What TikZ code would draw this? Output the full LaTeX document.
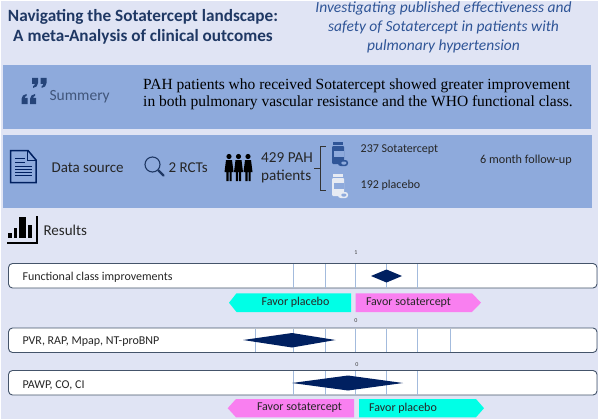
\documentclass[tikz,border=0pt]{standalone}
\usepackage{fontspec}
\setmainfont{Carlito}
\newfontfamily\serifface{Liberation Serif}
\definecolor{pagebg}{HTML}{E0E4F4}
\definecolor{bandblue}{HTML}{8EAADC}
\definecolor{navy}{HTML}{002060}
\definecolor{titleblue}{HTML}{1F3864}
\definecolor{subblue}{HTML}{2F5597}
\definecolor{barline}{HTML}{44546A}
\definecolor{tickblue}{HTML}{A3BBDD}
\definecolor{favcyan}{HTML}{00FFE6}
\definecolor{favpink}{HTML}{F97FF0}
\definecolor{pillwhite}{HTML}{E7EBF3}

\begin{document}
\begin{tikzpicture}[x=1pt,y=-1pt,
    band/.style={fill=bandblue,draw=none},
    resultbar/.style={draw=barline,line width=0.9pt,fill=white,rounded corners=4pt},
    tick/.style={draw=tickblue,line width=1pt},
    bartext/.style={anchor=west,font=\fontsize{12}{14}\selectfont,text=black!85},
    labeltext/.style={anchor=west,font=\fontsize{15}{18}\selectfont,text=black!85},
    smalltext/.style={anchor=west,inner sep=0pt,font=\fontsize{12}{14}\selectfont,text=black!85},
    zerotext/.style={font=\fontsize{6}{7}\selectfont,text=black!75,inner sep=0pt},
    favortext/.style={inner sep=0pt,font=\fontsize{12}{14}\selectfont,text=black!85},
    effect/.style={fill=navy,draw=none}]
  \useasboundingbox (0,0) rectangle (600,420);
  \fill[white] (0,0) rectangle (600,420);
  \fill[pagebg] (1,1) rectangle (597.5,418.5);
  % header
  \node[font=\fontsize{17.2}{20.5}\selectfont\bfseries,text=titleblue,align=center,inner sep=0pt] (title) at (143,27)
    {Navigating the Sotatercept landscape:\\A meta-Analysis of clinical outcomes};
  \node[font=\fontsize{15.5}{18.7}\selectfont\itshape,text=subblue,align=center,inner sep=0pt] (subtitle) at (443.5,27.5)
    {Investigating published effectiveness and\\safety of Sotatercept in patients with\\pulmonary hypertension};
  % summary band
  \fill[band] (3,65.5) rectangle (591,129);
  \foreach \qx/\qy/\qs in {32/84/1,36/98/-1}{
    \begin{scope}[shift={(\qx,\qy)},yscale=\qs,xscale=\qs]
      \fill[subblue!80!black] (0,-6) -- (6,-6) -- (6,-1) .. controls (6,2) and (4,3.5) .. (1,4) -- (1,2) .. controls (2,2) and (2.8,1) .. (2.8,0) -- (0,0) -- cycle;
      \fill[subblue!80!black] (8.5,-6) -- (14.5,-6) -- (14.5,-1) .. controls (14.5,2) and (12.5,3.5) .. (9.5,4) -- (9.5,2) .. controls (10.5,2) and (11.3,1) .. (11.3,0) -- (8.5,0) -- cycle;
    \end{scope}}
  \node[labeltext,text=titleblue!85,font=\fontsize{15.5}{18}\selectfont] (summery) at (46,97) {Summery};
  \node[font=\fontsize{15.5}{17.5}\serifface\selectfont,text=black,align=left,inner sep=0pt,anchor=west] (finding) at (143,94.5)
    {PAH patients who received Sotatercept showed greater improvement\\in both pulmonary vascular resistance and the WHO functional class.};
  % data source band
  \fill[band] (3,135) rectangle (591.5,207.5);
  \draw[navy,line width=1.5pt,line join=miter,fill=bandblue] (10.5,150.5) -- (28,150.5) -- (36,160) -- (36,182.5) -- (10.5,182.5) -- cycle;
  \draw[navy,line width=1pt] (27,150.5) -- (27,160.5) -- (36,160.5);
  \foreach \ly in {158,162.5}
    \draw[navy,line width=1pt] (15,\ly) -- (25,\ly);
  \foreach \ly in {166,169,172,175}
    \draw[navy,line width=1pt] (15,\ly) -- (32,\ly);
  \node[labeltext] (datasource) at (48,168) {Data source};
  \draw[titleblue,line width=1.1pt] (152.5,164.5) circle (7.5);
  \draw[titleblue,line width=2.2pt,line cap=round] (158.5,170.5) -- (163.5,175.5);
  \node[labeltext] (rcts) at (165,168) {2 RCTs};
  \foreach \px in {229,238.5,248}{
    \fill[black] (\px,156.5) circle (2.6);
    \fill[black] (\px-3,160) -- (\px+3,160) -- (\px+4.5,172) -- (\px+2.6,172) -- (\px+2.6,181) -- (\px+0.5,181) -- (\px+0.5,172) -- (\px-0.5,172) -- (\px-0.5,181) -- (\px-2.6,181) -- (\px-2.6,172) -- (\px-4.5,172) -- cycle;}
  \node[labeltext,align=left,inner sep=0pt,font=\fontsize{15.2}{18.5}\selectfont] (patients) at (261,168) {429 PAH\\patients};
  \draw[black!80,line width=0.6pt] (325.5,146) -- (320.5,146) -- (320.5,190) -- (325.5,190);
  \draw[black!80,line width=0.6pt] (314,168) -- (320.5,168);
  % bottles
  \foreach \by/\bc in {142/subblue,174/pillwhite}{
    \fill[\bc] (333,\by-0.5) rectangle (343,\by+3);
    \fill[\bc,rounded corners=1pt] (332,\by+4) rectangle (344,\by+22);
    \fill[bandblue] (334,\by+9) rectangle (344,\by+15);
    \fill[\bc,rounded corners=2.5pt] (338,\by+18) rectangle (348,\by+24);
    \fill[bandblue,rounded corners=1.5pt] (341,\by+19.5) rectangle (346.5,\by+22.5);}
  \node[smalltext] (sotatercept) at (360.5,149.5) {237 Sotatercept};
  \node[smalltext] (placebo) at (360.5,185) {192 placebo};
  \node[smalltext,font=\fontsize{12.2}{14}\selectfont] (followup) at (480,160.5) {6 month follow-up};
  % results
  \fill[black] (8,233) rectangle (11.5,238);
  \fill[black] (13.5,228) rectangle (17,238);
  \fill[black] (18.5,217) rectangle (25.5,238);
  \fill[black] (27.5,225) rectangle (32,238);
  \draw[black,line width=1.2pt] (7,243) -- (37,243) -- (37,216);
  \node[labeltext] (results) at (40,230) {Results};
  % rows
  \draw[resultbar] (8.5,263.5) rectangle (597,288);
  \draw[resultbar] (8.5,328) rectangle (597,352.5);
  \draw[resultbar] (8.5,370.5) rectangle (597,395);
  \foreach \tx in {293.5,325,355,386.5,417}
    \draw[tick] (\tx,264) -- (\tx,287.5);
  \foreach \tx in {255,293.5,325,355,386.5,417,450}
    \draw[tick] (\tx,328.5) -- (\tx,352);
  \foreach \tx in {293.5,325,355,386.5,417}
    \draw[tick] (\tx,371) -- (\tx,394.5);
  \node[bartext] (functional) at (19,277.5) {Functional class improvements};
  \node[bartext] (pvr) at (19,341.5) {PVR, RAP, Mpap, NT-proBNP};
  \node[bartext] (pawp) at (19,385) {PAWP, CO, CI};
  \node[zerotext] (tickone) at (356,253) {1};
  \node[zerotext] (zeroa) at (356,321) {0};
  \node[zerotext] (zerob) at (357,365) {0};
  \fill[effect] (371,276) -- (386.5,269.5) -- (402,276) -- (386.5,282.5) -- cycle;
  \fill[effect] (243,340) -- (292,333) -- (335.5,340) -- (292,347.5) -- cycle;
  \fill[effect] (292,383) -- (348,375.5) -- (403,383) -- (348,390.5) -- cycle;
  % favor arrows
  \fill[favcyan] (229,302.7) -- (236.5,293.3) -- (351,293.3) -- (351,312) -- (236.5,312) -- cycle;
  \fill[favpink] (355.7,293.3) -- (472,293.3) -- (481,302.7) -- (472,312) -- (355.7,312) -- cycle;
  \fill[favpink] (227.7,408.2) -- (236,399) -- (354,399) -- (354,417.3) -- (236,417.3) -- cycle;
  \fill[favcyan] (359,399) -- (476,399) -- (484,408.2) -- (476,417.3) -- (359,417.3) -- cycle;
  \node[favortext] (favplaceboa) at (295.5,302.5) {Favor placebo};
  \node[favortext] (favsotaa) at (408.5,302.5) {Favor sotatercept};
  \node[favortext] (favsotab) at (299.5,408) {Favor sotatercept};
  \node[favortext] (favplacebob) at (403,408) {Favor placebo};
\end{tikzpicture}
\end{document}
